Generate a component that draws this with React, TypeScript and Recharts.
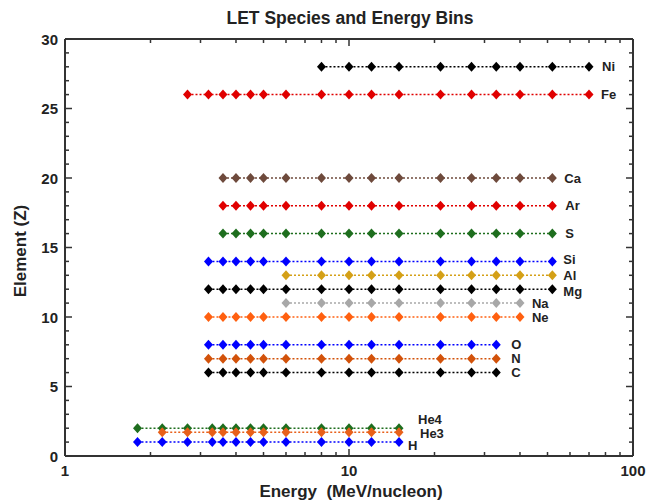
import { LineChart, Line, XAxis, YAxis } from "recharts";

// ion species, charge Z and the energy range each one covers (MeV/nucleon)
const species = ["Ni", "Fe", "Ca", "Ar", "S", "Si", "Al", "Mg", "Na", "Ne", "O", "N", "C", "He4", "He3", "H"];
const charge = [28, 26, 20, 18, 16, 14, 13, 12, 11, 10, 8, 7, 6, 2, 1.7, 1];
const energyMin = [8, 2.7, 3.6, 3.6, 3.6, 3.2, 6, 3.2, 6, 3.2, 3.2, 3.2, 3.2, 1.8, 2.2, 1.8];
const energyMax = [70, 70, 52, 52, 52, 52, 52, 52, 40, 40, 33, 33, 33, 15, 15, 15];

// bin centres
const heavyBins = [2.7, 3.2, 3.6, 4.0, 4.5, 5.0, 6.0, 8.0, 10, 12, 15, 21, 27, 33, 40, 52, 70];
const lightBins = [1.8, 2.2, 2.7, 3.3, 3.6, 4.0, 4.5, 5.0, 6.0, 8.0, 10, 12, 15];
const lightSpecies = ["He4", "He3", "H"];

// axis ticks
const xTicks = [1, 2, 3, 4, 5, 6, 7, 8, 9, 10, 20, 30, 40, 50, 60, 70, 80, 90, 100];
const xMajor = [1, 10, 100];
const yTicks = [0, 1, 2, 3, 4, 5, 6, 7, 8, 9, 10, 11, 12, 13, 14, 15, 16, 17, 18, 19, 20, 21, 22, 23, 24, 25, 26, 27, 28, 29, 30];
const yMajor = [0, 5, 10, 15, 20, 25, 30];

const colors = ["#000000", "#e00000", "#6e4a3c", "#e00000", "#1e6e1e", "#0000ff", "#d4a017", "#000000", "#a8a8a8", "#ff6010", "#0000ff", "#d2520a", "#000000", "#1e6e1e", "#e8601a", "#0000ff"];
const labelDx = [13, 12, 12, 13, 13, 11, 11, 11, 12, 12, 15, 15, 15, 19, 21, 9];
const labelDy = [0, 0, 0, 0, 0, -2, 0, 2, 0, 0, 0, 0, 0, -9, 1, 3];

const FONT = '"Liberation Sans", Arial, Helvetica, sans-serif';
const AXIS = "#333333";

const seriesData = species.map((name, i) => {
  const bins = lightSpecies.includes(name) ? lightBins : heavyBins;
  return bins
    .filter((e) => e >= energyMin[i] && e <= energyMax[i])
    .map((e) => ({ e, z: charge[i] }));
});

function BottomTick(props: any) {
  const { x, y, payload } = props;
  const major = xMajor.includes(payload.value);
  return (
    <g>
      <line x1={x} y1={y} x2={x} y2={y - (major ? 7 : 4)} stroke={AXIS} strokeWidth={1.5} />
      {major && (
        <text x={x} y={y + 20} textAnchor="middle" fontFamily={FONT} fontWeight="bold" fontSize={15} fill="#222">
          {payload.value}
        </text>
      )}
    </g>
  );
}

function TopTick(props: any) {
  const { x, y, payload } = props;
  const major = xMajor.includes(payload.value);
  return <line x1={x} y1={y} x2={x} y2={y + (major ? 7 : 4)} stroke={AXIS} strokeWidth={1.5} />;
}

function LeftTick(props: any) {
  const { x, y, payload } = props;
  const major = yMajor.includes(payload.value);
  return (
    <g>
      <line x1={x} y1={y} x2={x + (major ? 7 : 4)} y2={y} stroke={AXIS} strokeWidth={1.5} />
      {major && (
        <text x={x - 7} y={y + 5.5} textAnchor="end" fontFamily={FONT} fontWeight="bold" fontSize={15} fill="#222">
          {payload.value}
        </text>
      )}
    </g>
  );
}

function RightTick(props: any) {
  const { x, y, payload } = props;
  const major = yMajor.includes(payload.value);
  return <line x1={x} y1={y} x2={x - (major ? 7 : 4)} y2={y} stroke={AXIS} strokeWidth={1.5} />;
}

function makeDot(i: number) {
  const last = seriesData[i].length - 1;
  return (p: any) => {
    const { cx, cy, index } = p;
    return (
      <g key={`dot-${i}-${index}`}>
        <path d={`M${cx},${cy - 5} L${cx + 4.5},${cy} L${cx},${cy + 5} L${cx - 4.5},${cy} Z`} fill={colors[i]} />
        {index === last && (
          <text
            x={cx + labelDx[i]}
            y={cy + labelDy[i]}
            dominantBaseline="central"
            fontFamily={FONT}
            fontWeight="bold"
            fontSize={13}
            fill="#222"
          >
            {species[i]}
          </text>
        )}
      </g>
    );
  };
}

const axisLine = { stroke: AXIS, strokeWidth: 2 };

export default function App() {
  return (
    <div style={{ position: "absolute", left: 0, top: 0, width: 647, height: 504, background: "#fff" }}>
      <div
        style={{
          position: "absolute",
          left: 0,
          width: 700,
          top: 8,
          textAlign: "center",
          fontFamily: FONT,
          fontWeight: "bold",
          fontSize: 17.5,
          color: "#222",
        }}
      >
        LET Species and Energy Bins
      </div>
      <div
        style={{
          position: "absolute",
          left: 0,
          width: 702,
          top: 482,
          textAlign: "center",
          fontFamily: FONT,
          fontWeight: "bold",
          fontSize: 17,
          color: "#222",
          whiteSpace: "pre",
        }}
      >
        {"Energy  (MeV/nucleon)"}
      </div>
      <div
        style={{
          position: "absolute",
          left: 21,
          top: 251,
          transform: "translate(-50%, -50%) rotate(-90deg)",
          fontFamily: FONT,
          fontWeight: "bold",
          fontSize: 17,
          color: "#222",
          whiteSpace: "nowrap",
        }}
      >
        Element (Z)
      </div>
      <LineChart
        width={647}
        height={504}
        margin={{ top: 38, right: 13, bottom: 47, left: 64 }}
        style={{ position: "absolute", left: 0, top: 0 }}
      >
        <XAxis
          xAxisId="bottom"
          dataKey="e"
          type="number"
          scale="log"
          domain={[1, 100]}
          allowDataOverflow
          ticks={xTicks}
          interval={0}
          height={1}
          tickSize={0}
          tickMargin={0}
          tickLine={false}
          tick={<BottomTick />}
          axisLine={axisLine}
        />
        <XAxis
          xAxisId="top"
          orientation="top"
          dataKey="e"
          type="number"
          scale="log"
          domain={[1, 100]}
          allowDataOverflow
          ticks={xTicks}
          interval={0}
          height={1}
          tickSize={0}
          tickMargin={0}
          tickLine={false}
          tick={<TopTick />}
          axisLine={axisLine}
        />
        <YAxis
          yAxisId="left"
          type="number"
          domain={[0, 30]}
          allowDataOverflow
          ticks={yTicks}
          interval={0}
          width={1}
          tickSize={0}
          tickMargin={0}
          tickLine={false}
          tick={<LeftTick />}
          axisLine={axisLine}
        />
        <YAxis
          yAxisId="right"
          orientation="right"
          type="number"
          domain={[0, 30]}
          allowDataOverflow
          ticks={yTicks}
          interval={0}
          width={1}
          tickSize={0}
          tickMargin={0}
          tickLine={false}
          tick={<RightTick />}
          axisLine={axisLine}
        />
        {species.map((name, i) => (
          <Line
            key={name}
            xAxisId="bottom"
            yAxisId="left"
            data={seriesData[i]}
            dataKey="z"
            type="linear"
            stroke={colors[i]}
            strokeWidth={1.5}
            strokeDasharray="2 2"
            dot={makeDot(i)}
            activeDot={false}
            isAnimationActive={false}
          />
        ))}
      </LineChart>
    </div>
  );
}
